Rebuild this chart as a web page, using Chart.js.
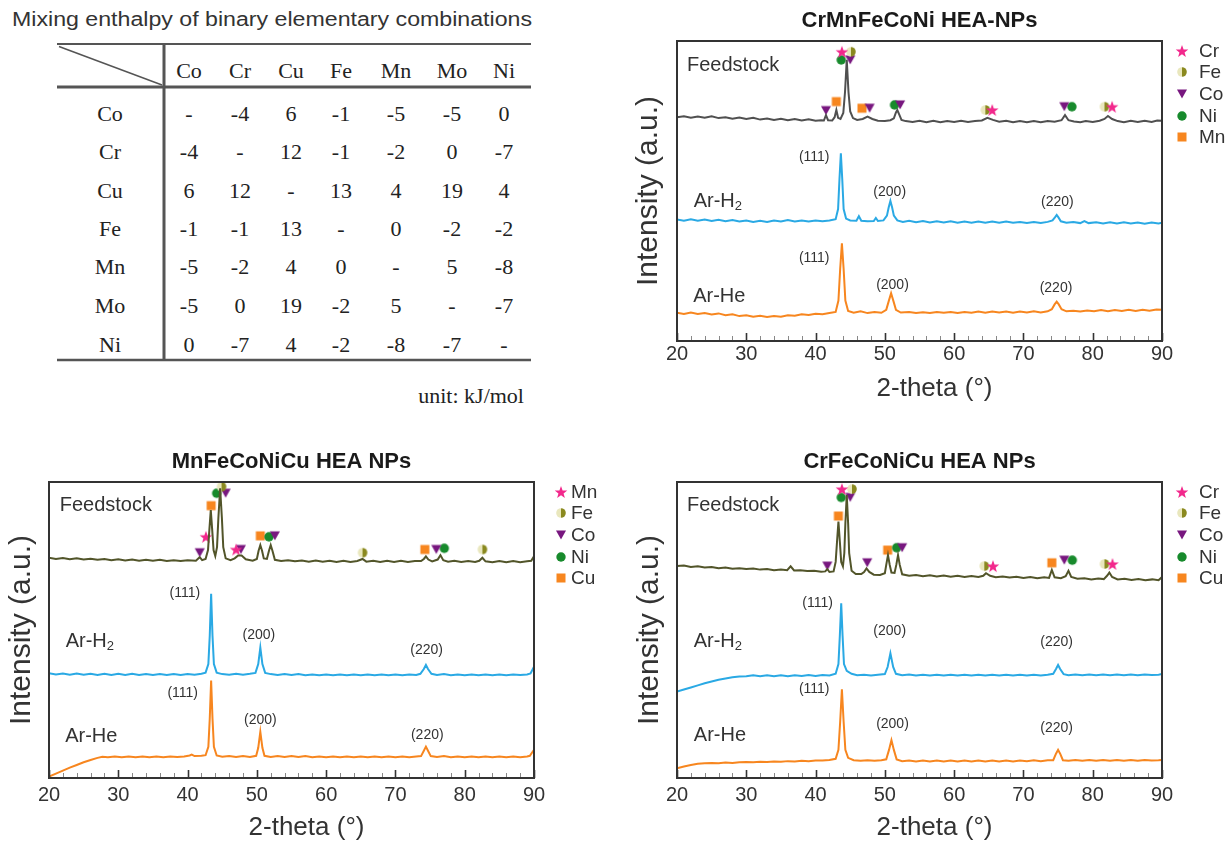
<!DOCTYPE html>
<html>
<head>
<meta charset="utf-8">
<script src="https://cdn.jsdelivr.net/npm/chart.js@4.4.1/dist/chart.umd.min.js"></script>
<style>
  body { margin: 0; background: #fff; width: 1231px; height: 843px; position: relative; overflow: hidden; }
  .pane { position: absolute; }
</style>
</head>
<body>
<svg id="tbl" class="pane" style="left:0;top:0" width="600" height="420"></svg>
<canvas id="c1" class="pane" style="left:600px;top:0" width="631" height="420"></canvas>
<canvas id="c2" class="pane" style="left:0;top:430px" width="615" height="413"></canvas>
<canvas id="c3" class="pane" style="left:600px;top:430px" width="631" height="413"></canvas>
<script>
// ---- table data ----
const ELEMENTS = ['Co', 'Cr', 'Cu', 'Fe', 'Mn', 'Mo', 'Ni'];
const ENTHALPY = [
    [null, -4, 6, -1, -5, -5, 0],
    [-4, null, 12, -1, -2, 0, -7],
    [6, 12, null, 13, 4, 19, 4],
    [-1, -1, 13, null, 0, -2, -2],
    [-5, -2, 4, 0, null, 5, -8],
    [-5, 0, 19, -2, 5, null, -7],
    [0, -7, 4, -2, -8, -7, null]
];

// ---- x axis ----
const X_TICKS = [20, 30, 40, 50, 60, 70, 80, 90];

// ---- CrMnFeCoNi (top right) ----
const trFeed = [[20,74.6],[21,74.9],[22,74.4],[23,74.8],[24,74.4],[25,74.9],[26,74.3],[27,74.6],[28,74.1],[29,74.5],[30,74.0],[31,74.4],[32,73.8],[33,74.2],[34,73.7],[35,74.1],[36,73.6],[37,74.0],[38,73.5],[39,73.9],[40,73.4],[40.8,73.6],[41.2,73.5],[41.5,75.3],[41.8,73.6],[42.4,73.5],[42.75,74.6],[43.0,77.0],[43.25,74.4],[43.6,74.0],[44.0,76.0],[44.25,83],[44.5,93.7],[44.75,83],[45.0,76.5],[45.4,74.3],[46.0,73.7],[46.8,74.0],[47.5,74.8],[48.2,74.0],[49.0,73.4],[50.0,73.3],[50.8,73.6],[51.3,74.2],[51.6,76.2],[51.8,77.0],[52.05,75.6],[52.4,73.7],[53,73.3],[54,73.0],[55,73.4],[56,72.9],[57,73.4],[58,72.9],[59,73.3],[60,73.0],[61,73.4],[62,73.0],[63,73.3],[64,73.5],[64.8,74.4],[65.6,73.7],[66.5,73.1],[67.5,73.4],[68.5,72.9],[69.5,73.3],[70.5,72.9],[71.5,73.3],[72.5,72.9],[73.5,73.3],[74.5,73.1],[75.5,73.6],[76.0,75.3],[76.5,73.6],[77.3,73.2],[78.2,72.9],[79,73.3],[80,73.0],[81,73.4],[81.7,74.0],[82.2,75.0],[82.8,74.0],[83.6,73.3],[84.5,72.9],[85.5,73.4],[86.5,73.0],[87.5,73.4],[88.5,73.0],[89.3,73.5],[90,73.4]];
const trH2 = [[20,40.5],[21,40.1],[22,40.6],[23,40.1],[24,40.5],[25,40.0],[26,40.4],[27,39.9],[28,40.3],[29,39.8],[30,40.2],[31,39.7],[32,40.1],[33,39.7],[34,40.2],[35,39.8],[36,40.3],[37,39.8],[38,40.2],[39,39.8],[40,40.2],[41,39.9],[42,40.2],[42.9,40.6],[43.25,44],[43.45,54],[43.65,62.6],[43.85,54],[44.05,44],[44.4,40.8],[45.0,40.2],[45.9,40.1],[46.25,41.6],[46.6,40.1],[47.5,39.9],[48.4,40.0],[48.7,41.0],[49.0,40.0],[49.8,40.2],[50.3,41.8],[50.55,44.5],[50.8,46.7],[51.05,44.5],[51.3,41.8],[51.8,40.2],[52.6,39.7],[53.5,40.1],[54.5,39.6],[55.5,40.0],[56.5,39.5],[57.5,39.9],[58.5,39.5],[59.5,39.9],[60.5,39.4],[61.5,39.8],[62.5,39.4],[63.5,39.8],[64.5,39.4],[65.5,39.8],[66.5,39.4],[67.5,39.8],[68.5,39.4],[69.5,39.7],[70.5,39.3],[71.5,39.7],[72.5,39.3],[73.5,39.7],[74.2,40.2],[74.55,41.2],[74.8,42.0],[75.05,41.2],[75.4,39.9],[76.2,39.4],[77.2,39.7],[78.2,39.3],[78.8,40.0],[79.4,39.3],[80.5,39.6],[81.5,39.2],[82.5,39.6],[83.5,39.2],[84.5,39.6],[85.5,39.2],[86.5,39.5],[87.5,39.1],[88.5,39.5],[89.5,39.2],[90,39.4]];
const trHe = [[20,9.4],[21,9.0],[22,9.5],[23,9.0],[24,9.3],[25,8.8],[26,9.2],[27,8.6],[28,8.9],[29,8.3],[30,8.6],[31,8.1],[32,8.4],[33,8.0],[34,8.3],[35,8.1],[36,8.6],[37,8.4],[38,8.9],[39,8.7],[40,9.1],[41,8.9],[42,9.3],[42.9,9.7],[43.3,13.5],[43.55,24],[43.8,32.6],[44.05,24],[44.3,13.5],[44.7,10.0],[45.5,9.4],[46.5,9.9],[47.5,9.3],[48.5,9.7],[49.5,9.4],[50.2,10.4],[50.55,13.2],[50.9,15.9],[51.25,13.2],[51.6,10.4],[52.3,9.5],[53.5,9.7],[54.5,9.3],[55.5,9.6],[56.5,9.3],[57.5,9.7],[58.5,9.4],[59.5,9.7],[60.5,9.3],[61.5,9.7],[62.5,9.4],[63.5,9.8],[64.5,9.4],[65.5,9.8],[66.5,9.5],[67.5,9.8],[68.5,9.4],[69.5,9.8],[70.5,9.5],[71.5,9.9],[72.5,9.5],[73.5,9.9],[74.1,10.6],[74.5,12.2],[74.8,13.1],[75.1,12.2],[75.5,10.6],[76.2,9.9],[77.2,10.1],[78.2,9.8],[79.2,10.2],[80.2,9.9],[81.2,10.3],[82.2,9.9],[83.2,10.3],[84.2,10.0],[85.2,10.4],[86.2,10.0],[87.2,10.4],[88.2,10.1],[89.2,10.5],[90,10.4]];
const trCr = [[43.8,96.4],[65.5,77.0],[82.8,78.1]];
const trFe = [[45.1,96.4],[64.5,77.0],[81.7,78.1]];
const trCo = [[45.0,93.7],[41.5,76.8],[47.8,77.6],[52.2,78.7],[75.9,78.1]];
const trNi = [[43.7,93.7],[51.4,78.7],[77.0,78.1]];
const trMn = [[43.0,79.8],[46.7,77.6]];

// ---- MnFeCoNiCu (bottom left) ----
const blFeed = [[20,74.4],[21,74.0],[22,74.3],[23,73.9],[24,74.2],[25,73.8],[26,74.1],[27,73.7],[28,74.0],[29,73.6],[30,73.9],[31,73.5],[32,73.8],[33,73.4],[34,73.7],[35,73.4],[36,73.7],[37,73.3],[38,73.6],[39,73.3],[40,73.6],[41.2,73.4],[41.75,74.6],[42.1,73.6],[42.6,74.0],[42.95,77],[43.15,84],[43.35,90.5],[43.55,84],[43.75,77],[44.0,75.0],[44.25,78],[44.45,88],[44.7,97.9],[44.95,88],[45.15,78],[45.5,74.2],[46.2,73.6],[46.8,74.2],[47.3,75.2],[47.8,75.2],[48.4,73.9],[49.4,73.4],[50.0,74.0],[50.25,76.8],[50.5,78.7],[50.75,76.8],[51.0,74.2],[51.45,74.0],[51.75,76.8],[52.0,78.7],[52.25,76.8],[52.6,73.7],[53.5,73.3],[54.5,73.6],[55.5,73.2],[56.5,73.5],[57.5,73.1],[58.5,73.5],[59.5,73.1],[60.5,73.4],[61.5,73.0],[62.5,73.4],[63.5,73.0],[64.5,73.3],[65.25,74.0],[65.8,73.1],[66.8,73.4],[67.8,73.0],[68.8,73.4],[69.8,73.0],[70.8,73.4],[71.8,73.0],[72.8,73.3],[73.7,73.3],[74.1,74.0],[74.4,74.9],[74.75,73.8],[75.3,73.2],[76.1,73.8],[76.5,75.3],[76.9,73.6],[77.6,73.1],[78.5,73.4],[79.5,73.0],[80.5,73.3],[81.5,73.0],[82.1,73.4],[82.55,74.4],[83.0,73.2],[84,72.9],[85,73.3],[86,72.9],[87,73.3],[88,72.9],[89,73.2],[89.6,73.4],[90,74.9]];
const blH2 = [[20,35.4],[21,35.0],[22,35.3],[23,34.9],[24,35.3],[25,34.9],[26,35.2],[27,34.8],[28,35.2],[29,34.8],[30,35.2],[31,34.8],[32,35.2],[33,34.8],[34,35.1],[35,34.8],[36,35.1],[37,34.8],[38,35.1],[39,34.8],[40,35.1],[41,34.9],[42,35.2],[42.6,35.6],[43.0,38.5],[43.2,48],[43.4,62.2],[43.6,48],[43.8,38.5],[44.2,35.6],[45,35.1],[46,34.9],[47,35.2],[48,34.9],[49,35.2],[49.8,35.5],[50.2,38.5],[50.5,44.1],[50.8,38.5],[51.2,35.5],[52,35.1],[53,34.8],[54,35.1],[55,34.8],[56,35.1],[57,34.7],[58,35.0],[59,34.7],[60,35.0],[61,34.7],[62,35.0],[63,34.7],[64,35.0],[65,34.7],[66,35.0],[67,34.7],[68,35.0],[69,34.7],[70,35.0],[71,34.7],[72,35.0],[73,34.8],[73.6,35.2],[74.1,36.8],[74.4,38.2],[74.7,36.8],[75.2,35.2],[76,34.8],[77,35.1],[78,34.7],[79,35.0],[80,34.7],[81,35.0],[82,34.7],[83,35.0],[84,34.7],[85,35.0],[86,34.7],[87,35.0],[88,34.8],[89,35.0],[89.5,35.3],[90,37.6]];
const blHe = [[20,0.5],[21,1.5],[22,2.5],[23,3.5],[24,4.4],[25,5.3],[26,6.1],[27,6.8],[27.7,7.2],[28.5,7.0],[29.5,7.3],[30.5,7.0],[31.5,7.3],[32.5,7.0],[33.5,7.3],[34.5,7.0],[35.5,7.3],[36.5,7.0],[37.5,7.3],[38.5,7.1],[39.5,7.3],[40.3,7.6],[40.6,7.9],[41,7.4],[42,7.5],[42.6,7.7],[43.0,10.5],[43.2,20],[43.4,32.9],[43.6,20],[43.8,10.5],[44.2,7.6],[45,7.2],[46,7.4],[47,7.1],[48,7.4],[49,7.1],[49.9,7.5],[50.2,10.2],[50.5,15.6],[50.8,10.2],[51.1,7.5],[52,7.1],[53,7.4],[54,7.1],[55,7.4],[56,7.1],[57,7.4],[58,7.0],[59,7.3],[60,7.0],[61,7.3],[62,7.0],[63,7.3],[64,7.0],[65,7.3],[66,7.0],[67,7.3],[68,7.0],[69,7.3],[70,7.0],[71,7.3],[72,7.0],[73,7.3],[73.7,7.4],[74.1,9.2],[74.4,10.6],[74.7,9.2],[75.1,7.4],[76,7.1],[77,7.4],[78,7.0],[79,7.3],[80,7.0],[81,7.3],[82,7.0],[83,7.3],[84,7.0],[85,7.3],[86,7.0],[87,7.3],[88,7.0],[89,7.3],[89.4,7.5],[90,9.5]];
const blMn = [[42.65,81.5],[47.0,77.2]];
const blFe = [[44.9,98.4],[65.25,76.1],[82.55,77.2]];
const blCo = [[41.75,76.1],[45.5,96.2],[47.7,77.2],[52.6,81.8],[75.9,77.2]];
const blNi = [[44.2,96.2],[51.75,81.5],[77.05,77.6]];
const blCu = [[43.4,92.0],[50.5,81.8],[74.25,77.2]];

// ---- CrFeCoNiCu (bottom right) ----
const brFeed = [[20,71.6],[21,71.8],[22,71.3],[23,71.5],[24,71.1],[25,71.3],[26,70.9],[27,71.1],[28,70.7],[29,70.9],[30,70.6],[31,70.8],[32,70.4],[33,70.6],[34,70.2],[35,70.4],[35.9,70.2],[36.4,71.5],[36.9,70.1],[37.8,70.2],[38.8,69.9],[39.8,70.0],[40.8,69.7],[41.4,69.8],[41.7,70.6],[42.0,69.6],[42.6,69.8],[42.9,73],[43.1,80],[43.3,86.6],[43.5,80],[43.7,73],[43.95,71.5],[44.15,76],[44.3,86],[44.5,95.6],[44.7,86],[44.85,76],[45.2,70.0],[45.8,68.9],[46.6,68.9],[47.0,69.6],[47.35,70.8],[47.75,69.6],[48.4,68.7],[49.3,68.6],[50.0,69.2],[50.2,72.0],[50.45,75.3],[50.7,72.0],[50.95,69.4],[51.4,69.3],[51.65,72.0],[51.9,75.3],[52.15,72.0],[52.5,68.8],[53.5,68.3],[54.5,68.6],[55.5,68.2],[56.5,68.5],[57.5,68.1],[58.5,68.4],[59.5,68.0],[60.5,68.3],[61.5,67.9],[62.5,68.2],[63.5,67.9],[64.2,68.3],[64.6,69.2],[65.2,68.3],[66,67.8],[67,68.1],[68,67.7],[69,68.0],[70,67.6],[71,67.9],[72,67.5],[73,67.8],[73.7,67.6],[74.1,70.3],[74.5,67.8],[75.4,67.5],[76.1,68.2],[76.5,70.0],[76.9,67.9],[77.8,67.3],[78.8,67.5],[79.8,67.1],[80.8,67.4],[81.6,67.2],[82.1,68.4],[82.4,69.4],[82.8,67.9],[83.6,67.1],[84.6,67.3],[85.6,66.9],[86.6,67.2],[87.6,66.8],[88.6,67.1],[89.5,66.8],[90,67.9]];
const brH2 = [[20,29.2],[21,29.9],[22,30.6],[23,31.3],[24,32.0],[25,32.6],[26,33.2],[27,33.6],[28,34.0],[29,34.3],[30,34.4],[31,34.7],[32,34.4],[33,34.7],[34,34.4],[35,34.7],[36,34.4],[37,34.7],[38,34.5],[39,34.8],[40,34.5],[41,34.8],[42,34.6],[42.9,35.2],[43.3,38.5],[43.5,48],[43.7,59],[43.9,48],[44.1,38.5],[44.5,36.2],[45.2,35.2],[46,34.7],[47,34.9],[48,34.6],[49,34.9],[50.0,35.1],[50.4,37.5],[50.8,42.1],[51.2,37.5],[51.6,35.2],[52.5,34.7],[53.5,35.0],[54.5,34.6],[55.5,34.9],[56.5,34.6],[57.5,34.9],[58.5,34.6],[59.5,34.9],[60.5,34.6],[61.5,34.9],[62.5,34.6],[63.5,34.9],[64.5,34.6],[65.5,34.9],[66.5,34.6],[67.5,34.9],[68.5,34.6],[69.5,34.9],[70.5,34.6],[71.5,34.9],[72.5,34.6],[73.5,34.9],[74.3,35.2],[74.7,36.8],[75.0,38.2],[75.3,36.8],[75.8,35.1],[76.5,34.7],[77.5,35.0],[78.5,34.7],[79.5,35.0],[80.5,34.7],[81.5,35.0],[82.5,34.7],[83.5,35.0],[84.5,34.7],[85.5,35.0],[86.5,34.7],[87.5,35.0],[88.5,34.8],[89.5,34.9],[90,35.1]];
const brHe = [[20,3.3],[21,3.9],[22,4.4],[23,4.8],[24,5.0],[25,5.1],[26,5.0],[27,5.2],[28,5.1],[29,5.3],[30,5.4],[31,5.3],[32,5.5],[33,5.4],[34,5.6],[35,5.5],[36,5.7],[37,5.6],[38,5.8],[39,5.7],[40,5.9],[41,5.9],[42,6.1],[42.9,6.5],[43.3,9.5],[43.55,19],[43.8,30],[44.05,19],[44.3,9.5],[44.7,6.8],[45.5,6.0],[46.5,5.8],[47.5,6.0],[48.5,5.8],[49.5,6.0],[50.2,6.3],[50.6,9.5],[50.95,12.8],[51.3,9.5],[51.7,6.3],[52.5,5.7],[53.5,5.9],[54.5,5.6],[55.5,5.9],[56.5,5.6],[57.5,5.9],[58.5,5.6],[59.5,5.9],[60.5,5.6],[61.5,5.9],[62.5,5.6],[63.5,5.9],[64.5,5.6],[65.5,5.9],[66.5,5.6],[67.5,5.9],[68.5,5.6],[69.5,5.9],[70.5,5.7],[71.5,6.0],[72.5,5.7],[73.5,6.0],[74.3,6.0],[74.7,8.2],[75.0,9.5],[75.3,8.2],[75.7,6.0],[76.5,5.8],[77.5,6.1],[78.5,5.8],[79.5,6.1],[80.5,5.8],[81.5,6.1],[82.5,5.8],[83.5,6.1],[84.5,5.8],[85.5,6.1],[86.5,5.8],[87.5,6.1],[88.5,5.9],[89.5,6.0],[90,6.1]];
const brCr = [[43.8,97.6],[65.6,71.6],[82.85,72.3]];
const brFe = [[45.25,97.6],[64.35,71.6],[81.7,72.3]];
const brCo = [[45.0,94.8],[41.7,71.6],[47.45,72.7],[52.5,77.8],[75.9,73.6]];
const brNi = [[43.7,94.8],[51.7,77.8],[77.05,73.6]];
const brCu = [[43.3,88.5],[50.4,77.0],[74.1,72.7]];

// ---- colours ----
const C_GRAY = '#505050';
const C_OLIVE = '#52552a';
const C_BLUE = '#2aa9e4';
const C_ORANGE = '#f7861f';
const TXT = '#333';
const SANS = "'Liberation Sans', Arial, sans-serif";

Chart.defaults.font.family = SANS;
Chart.defaults.color = TXT;

// marker images, used for both points and legend
function makeMarker(kind) {
    const c = document.createElement('canvas');
    c.width = 14; c.height = 14;
    const g = c.getContext('2d');
    const m = 7;
    if (kind === 'star') {
        g.fillStyle = '#f2288c';
        g.beginPath();
        for (let i = 0; i < 10; i++) {
            const r = i % 2 ? 2.7 : 6.6;
            const ang = -Math.PI / 2 + i * Math.PI / 5;
            g.lineTo(m + r * Math.cos(ang), m + 0.6 + r * Math.sin(ang));
        }
        g.closePath();
        g.fill();
    } else if (kind === 'circle') {
        g.fillStyle = '#178a2c';
        g.beginPath(); g.arc(m, m, 4.7, 0, Math.PI * 2); g.fill();
    } else if (kind === 'tri') {
        g.fillStyle = '#78177f';
        g.beginPath(); g.moveTo(2, 2.5); g.lineTo(12, 2.5); g.lineTo(m, 11.5); g.closePath(); g.fill();
    } else if (kind === 'square') {
        g.fillStyle = C_ORANGE;
        g.fillRect(2.5, 2.5, 9, 9);
    } else if (kind === 'half') {
        g.fillStyle = '#e9e7bd';
        g.beginPath(); g.arc(m, m, 4.8, Math.PI / 2, Math.PI * 1.5); g.fill();
        g.fillStyle = '#8a891f';
        g.beginPath(); g.arc(m, m, 4.8, -Math.PI / 2, Math.PI / 2); g.fill();
    }
    return c;
}
const MARKS = {};
['star', 'circle', 'tri', 'square', 'half'].forEach(k => { MARKS[k] = makeMarker(k); });

const LEGEND_ROWS = [10, 31, 53, 75, 96];

// frame, inward ticks, titles, labels and legend
const decor = {
    id: 'decor',
    afterDraw(chart) {
        const o = chart.options.plugins.decor;
        const { ctx, chartArea: a, scales: { x, y } } = chart;
        ctx.save();
        // inward ticks every 2 degrees
        for (let v = X_TICKS[0]; v <= X_TICKS[X_TICKS.length - 1]; v += 2) {
            const px = Math.round(x.getPixelForValue(v)) + 0.5;
            const major = X_TICKS.includes(v);
            ctx.strokeStyle = major ? '#333' : '#888';
            ctx.lineWidth = major ? 1.6 : 1;
            ctx.beginPath();
            ctx.moveTo(px, a.bottom);
            ctx.lineTo(px, a.bottom - (major ? 8 : 5));
            ctx.stroke();
        }
        ctx.strokeStyle = '#333';
        ctx.lineWidth = 2;
        ctx.strokeRect(a.left, a.top, a.width, a.height);

        const cx = (a.left + a.right) / 2;
        ctx.fillStyle = '#1a1a1a';
        ctx.textAlign = 'center';
        ctx.textBaseline = 'middle';
        ctx.font = `bold 22px ${SANS}`;
        ctx.fillText(o.title, cx, a.top - 20.5);

        ctx.fillStyle = TXT;
        ctx.font = `26px ${SANS}`;
        ctx.fillText('2-theta (°)', cx + 15, a.bottom + o.xtOff);

        // curve labels
        o.notes.forEach(n => {
            const px = x.getPixelForValue(n.x);
            const py = y.getPixelForValue(n.y);
            ctx.font = `${n.size}px ${SANS}`;
            if (n.sub) {
                const w1 = ctx.measureText(n.t).width;
                ctx.font = `${n.size * 0.65}px ${SANS}`;
                const w2 = ctx.measureText(n.sub).width;
                const left = px - (w1 + w2) / 2;
                ctx.textAlign = 'left';
                ctx.font = `${n.size}px ${SANS}`;
                ctx.fillText(n.t, left, py);
                ctx.font = `${n.size * 0.65}px ${SANS}`;
                ctx.fillText(n.sub, left + w1, py + 5);
                ctx.textAlign = 'center';
            } else {
                ctx.fillText(n.t, px, py);
            }
        });

        // legend
        ctx.font = `19px ${SANS}`;
        ctx.textAlign = 'left';
        o.marks.forEach((m, i) => {
            const ly = a.top + LEGEND_ROWS[i];
            const img = MARKS[m.kind];
            ctx.drawImage(img, a.right + o.legMark - img.width / 2, ly - img.height / 2);
            ctx.fillText(m.label, a.right + o.legText, ly + 1);
        });
        ctx.restore();
    }
};

function toXY(arr) {
    return arr.map(p => ({ x: p[0], y: p[1] }));
}

function buildChart(id, o) {
    const datasets = [];
    o.lines.forEach(l => datasets.push({
        data: toXY(l.pts), showLine: true, borderColor: l.color, borderWidth: 2,
        pointRadius: 0, tension: 0, fill: false
    }));
    o.marks.forEach(m => datasets.push({
        data: toXY(m.pts), showLine: false, pointStyle: MARKS[m.kind], pointRadius: 5
    }));

    new Chart(document.getElementById(id), {
        type: 'scatter',
        data: { datasets },
        options: {
            responsive: false,
            animation: false,
            events: [],
            layout: { padding: o.pad },
            plugins: {
                legend: { display: false },
                tooltip: { enabled: false },
                decor: o
            },
            scales: {
                x: {
                    type: 'linear', min: X_TICKS[0], max: X_TICKS[X_TICKS.length - 1],
                    afterBuildTicks: s => { s.ticks = X_TICKS.map(v => ({ value: v })); },
                    afterFit: s => { s.height = o.xh; },
                    grid: { display: false, drawTicks: false },
                    border: { display: false },
                    ticks: { font: { size: 20 }, color: TXT, padding: o.tickPad, maxRotation: 0, autoSkip: false }
                },
                y: {
                    min: 0, max: 100,
                    afterFit: s => { s.width = o.yw; },
                    grid: { display: false, drawTicks: false },
                    border: { display: false },
                    ticks: { display: false },
                    title: {
                        display: true, text: 'Intensity (a.u.)', color: TXT,
                        font: { size: 30 }, padding: { top: o.ytPad, bottom: 0 }
                    }
                }
            }
        },
        plugins: [decor]
    });
}

buildChart('c1', {
    title: 'CrMnFeCoNi HEA-NPs',
    pad: { left: 27, right: 69, top: 41, bottom: 0 },
    yw: 50, xh: 79, tickPad: 1, ytPad: 4, xtOff: 48,
    legMark: 20, legText: 37,
    lines: [
        { pts: trFeed, color: C_GRAY },
        { pts: trH2, color: C_BLUE },
        { pts: trHe, color: C_ORANGE }
    ],
    marks: [
        { label: 'Cr', kind: 'star', pts: trCr },
        { label: 'Fe', kind: 'half', pts: trFe },
        { label: 'Co', kind: 'tri', pts: trCo },
        { label: 'Ni', kind: 'circle', pts: trNi },
        { label: 'Mn', kind: 'square', pts: trMn }
    ],
    notes: [
        { t: 'Feedstock', x: 28.1, y: 92, size: 20 },
        { t: 'Ar-H', sub: '2', x: 25.9, y: 46.4, size: 20 },
        { t: 'Ar-He', x: 26.1, y: 14.8, size: 20 },
        { t: '(111)', x: 39.8, y: 61.3, size: 14 },
        { t: '(200)', x: 50.7, y: 49.7, size: 14 },
        { t: '(220)', x: 74.9, y: 46.4, size: 14 },
        { t: '(111)', x: 39.8, y: 27.7, size: 14 },
        { t: '(200)', x: 51.1, y: 18.7, size: 14 },
        { t: '(220)', x: 74.7, y: 17.7, size: 14 }
    ]
});

buildChart('c2', {
    title: 'MnFeCoNiCu HEA NPs',
    pad: { left: 4, right: 81, top: 52, bottom: 0 },
    yw: 45, xh: 65, tickPad: 5, ytPad: 0, xtOff: 50,
    legMark: 27, legText: 37,
    lines: [
        { pts: blFeed, color: C_OLIVE },
        { pts: blH2, color: C_BLUE },
        { pts: blHe, color: C_ORANGE }
    ],
    marks: [
        { label: 'Mn', kind: 'star', pts: blMn },
        { label: 'Fe', kind: 'half', pts: blFe },
        { label: 'Co', kind: 'tri', pts: blCo },
        { label: 'Ni', kind: 'circle', pts: blNi },
        { label: 'Cu', kind: 'square', pts: blCu }
    ],
    notes: [
        { t: 'Feedstock', x: 28.2, y: 92.2, size: 20 },
        { t: 'Ar-H', sub: '2', x: 25.9, y: 46, size: 20 },
        { t: 'Ar-He', x: 26.1, y: 14, size: 20 },
        { t: '(111)', x: 39.6, y: 62.4, size: 14 },
        { t: '(200)', x: 50.3, y: 48.3, size: 14 },
        { t: '(220)', x: 74.5, y: 43.2, size: 14 },
        { t: '(111)', x: 39.3, y: 28.6, size: 14 },
        { t: '(200)', x: 50.5, y: 19.6, size: 14 },
        { t: '(220)', x: 74.6, y: 14.5, size: 14 }
    ]
});

buildChart('c3', {
    title: 'CrFeCoNiCu HEA NPs',
    pad: { left: 27, right: 69, top: 52, bottom: 0 },
    yw: 50, xh: 65, tickPad: 5, ytPad: 5, xtOff: 50,
    legMark: 20, legText: 37,
    lines: [
        { pts: brFeed, color: C_OLIVE },
        { pts: brH2, color: C_BLUE },
        { pts: brHe, color: C_ORANGE }
    ],
    marks: [
        { label: 'Cr', kind: 'star', pts: brCr },
        { label: 'Fe', kind: 'half', pts: brFe },
        { label: 'Co', kind: 'tri', pts: brCo },
        { label: 'Ni', kind: 'circle', pts: brNi },
        { label: 'Cu', kind: 'square', pts: brCu }
    ],
    notes: [
        { t: 'Feedstock', x: 28.1, y: 92.2, size: 20 },
        { t: 'Ar-H', sub: '2', x: 25.9, y: 46, size: 20 },
        { t: 'Ar-He', x: 26.2, y: 14.2, size: 20 },
        { t: '(111)', x: 40.3, y: 59.1, size: 14 },
        { t: '(200)', x: 50.7, y: 49.7, size: 14 },
        { t: '(220)', x: 74.8, y: 46, size: 14 },
        { t: '(111)', x: 39.8, y: 30, size: 14 },
        { t: '(200)', x: 51.1, y: 18.2, size: 14 },
        { t: '(220)', x: 74.8, y: 16.9, size: 14 }
    ]
});

// ---- mixing enthalpy table (svg) ----
(function drawTable() {
    const svg = document.getElementById('tbl');
    const NS = 'http://www.w3.org/2000/svg';
    function add(tag, attrs, text) {
        const el = document.createElementNS(NS, tag);
        for (const k in attrs) el.setAttribute(k, attrs[k]);
        if (text !== undefined) el.textContent = text;
        svg.appendChild(el);
        return el;
    }
    add('text', { x: 12, y: 26, 'font-family': SANS, 'font-size': 20, fill: TXT,
        textLength: 520, lengthAdjust: 'spacingAndGlyphs' }, 'Mixing enthalpy  of binary elementary  combinations');

    const line = { stroke: '#555' };
    add('line', { x1: 57, y1: 44, x2: 531, y2: 44, 'stroke-width': 2, ...line });
    add('line', { x1: 57, y1: 87, x2: 531, y2: 87, 'stroke-width': 3, ...line });
    add('line', { x1: 57, y1: 360, x2: 531, y2: 360, 'stroke-width': 2.5, ...line });
    add('line', { x1: 164, y1: 44, x2: 164, y2: 360, 'stroke-width': 3, ...line });
    add('line', { x1: 59, y1: 46.5, x2: 162, y2: 85, 'stroke-width': 1.5, ...line });

    const colX = [189, 240, 291, 341, 396, 452, 504];
    const rowY = [113, 151.7, 190, 228.3, 266.7, 305, 344];
    const serif = { 'font-family': "'Liberation Serif', 'Times New Roman', serif", 'font-size': 22,
        fill: '#222', 'text-anchor': 'middle', 'dominant-baseline': 'central' };
    ELEMENTS.forEach((el, i) => add('text', { x: colX[i], y: 70, ...serif }, el));
    ELEMENTS.forEach((el, r) => {
        add('text', { x: 110, y: rowY[r], ...serif }, el);
        ENTHALPY[r].forEach((v, c) => add('text', { x: colX[c], y: rowY[r], ...serif }, v === null ? '-' : String(v)));
    });
    add('text', { ...serif, x: 524, y: 395, 'text-anchor': 'end' }, 'unit: kJ/mol');
})();
</script>
</body>
</html>
